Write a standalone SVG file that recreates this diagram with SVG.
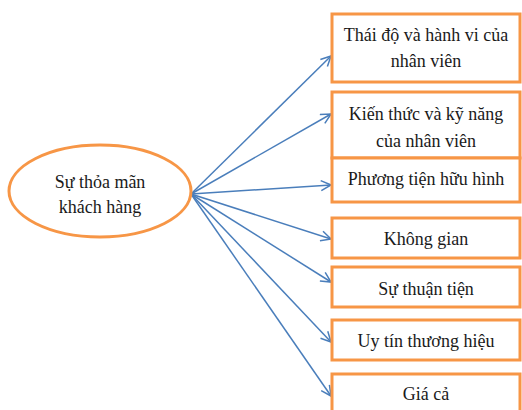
<svg xmlns="http://www.w3.org/2000/svg" width="522" height="410" viewBox="0 0 522 410">
<style>
.box{fill:#fff;stroke:#f79646;stroke-width:3}
.t{font-family:'Liberation Serif','DejaVu Serif',serif;font-size:18px;fill:#1a1a1a;text-anchor:middle}
.c{stroke:#4a7ebb;stroke-width:1.5;fill:none;marker-end:url(#ah)}
</style>
<defs>
<marker id="ah" viewBox="0 0 12 12" refX="11" refY="6" markerWidth="12" markerHeight="12" markerUnits="userSpaceOnUse" orient="auto">
<path d="M1,1 L11,6 L1,11" fill="none" stroke="#4a7ebb" stroke-width="1.5"/>
</marker>
</defs>
<rect width="522" height="410" fill="#fff"/>
<g id="connectors">
<line class="c" x1="191" y1="194" x2="331" y2="56"/>
<line class="c" x1="191" y1="194" x2="331" y2="114"/>
<line class="c" x1="191" y1="194" x2="331" y2="185"/>
<line class="c" x1="191" y1="194" x2="331" y2="239"/>
<line class="c" x1="191" y1="194" x2="331" y2="282"/>
<line class="c" x1="191" y1="194" x2="331" y2="342"/>
<line class="c" x1="191" y1="194" x2="331" y2="396"/>
</g>
<g id="center">
<ellipse class="box" cx="100" cy="191" rx="91" ry="46"/>
<text class="t" x="100" y="188">Sự thỏa mãn</text>
<text class="t" x="100" y="213">khách hàng</text>
</g>
<g id="n1">
<rect class="box" x="332" y="14" width="188" height="68"/>
<text class="t" x="426" y="41">Thái độ và hành vi của</text>
<text class="t" x="426" y="67">nhân viên</text>
</g>
<g id="n2">
<rect class="box" x="332" y="92" width="188" height="66"/>
<text class="t" x="426" y="120">Kiến thức và kỹ năng</text>
<text class="t" x="426" y="147">của nhân viên</text>
</g>
<g id="n3">
<rect class="box" x="332" y="158" width="188" height="44"/>
<text class="t" x="426" y="185">Phương tiện hữu hình</text>
</g>
<g id="n4">
<rect class="box" x="332" y="218" width="188" height="40"/>
<text class="t" x="426" y="245">Không gian</text>
</g>
<g id="n5">
<rect class="box" x="332" y="267" width="188" height="40"/>
<text class="t" x="426" y="295">Sự thuận tiện</text>
</g>
<g id="n6">
<rect class="box" x="332" y="320" width="188" height="40"/>
<text class="t" x="426" y="347">Uy tín thương hiệu</text>
</g>
<g id="n7">
<rect class="box" x="332" y="374" width="188" height="50"/>
<text class="t" x="426" y="400">Giá cả</text>
</g>
</svg>
